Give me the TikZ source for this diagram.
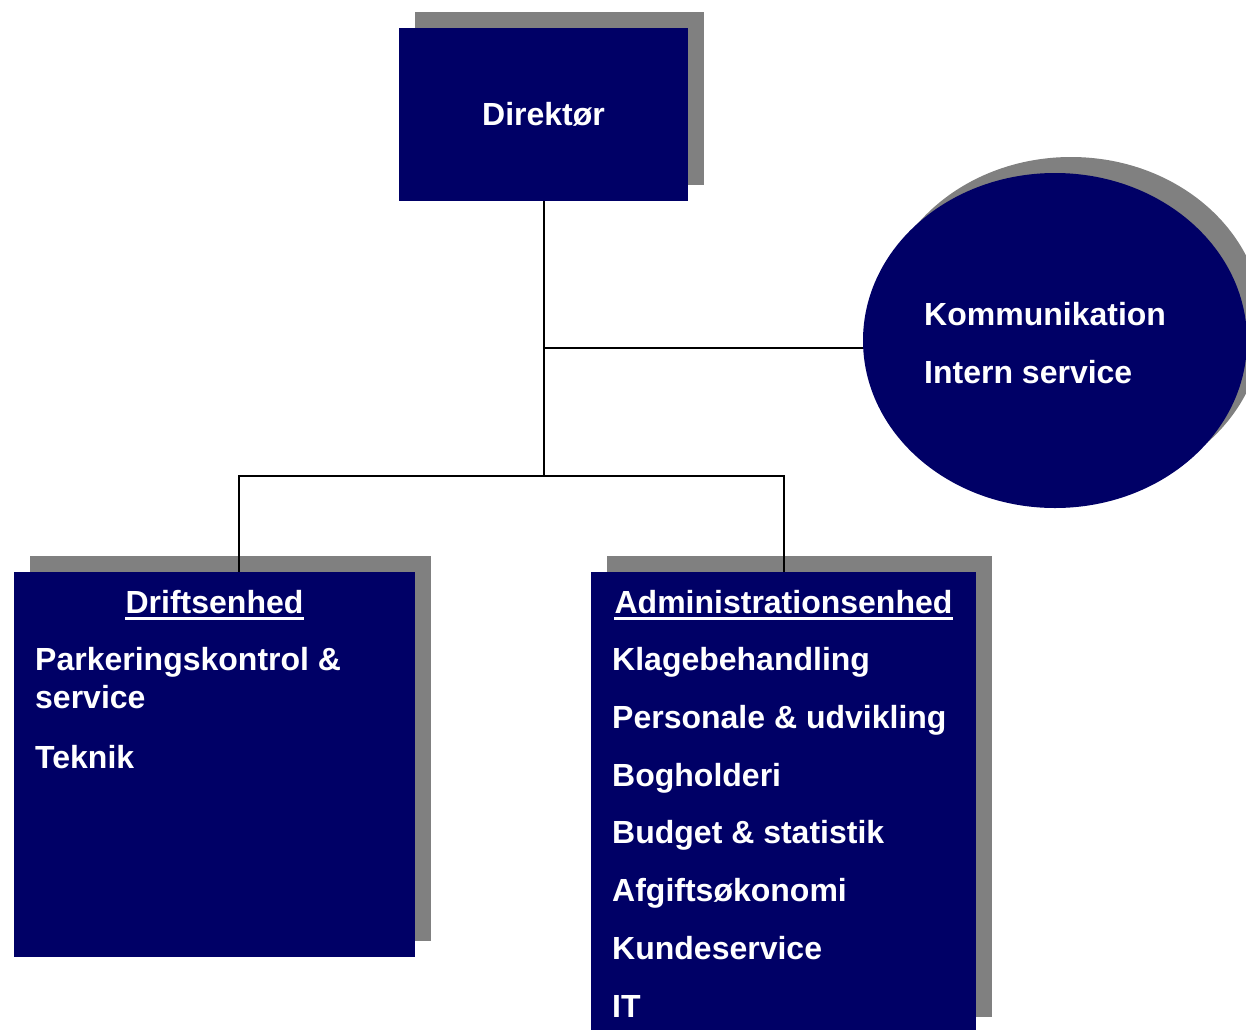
\documentclass[tikz,border=0pt]{standalone}
\usepackage{fontspec}
\setmainfont{Liberation Sans}
\usepackage{tikz}
\usetikzlibrary{positioning,shadows,shapes.geometric}
\definecolor{navy}{RGB}{0,0,102}
\definecolor{shade}{RGB}{128,128,128}

\begin{document}
\begin{tikzpicture}[
  x=1pt, y=-1pt,
  box/.style={fill=navy, inner sep=0pt, outer sep=0pt,
              drop shadow={shadow xshift=16pt, shadow yshift=16pt, fill=shade, opacity=1}},
  lbl/.style={text=white, font=\fontsize{32}{38}\selectfont\bfseries, inner sep=0pt},
  uline/.style={white, line width=2.6pt},
  link/.style={line width=2pt}
]
\useasboundingbox (0,0) rectangle (1246,1029);

% units
\node[box, lbl, minimum width=289pt, minimum height=173pt] (dir) at (543.5,114.5) {Direktør};
\node[box, ellipse, minimum width=384pt, minimum height=335pt] (komm) at (1055,340.5) {};
\node[box, minimum width=401pt, minimum height=385pt] (drift) at (214.5,764.5) {};
\node[box, minimum width=385pt, minimum height=461pt] (admin) at (783.5,802.5) {};

% texts (base = last line)
\node[lbl, anchor=base west, align=left] (kommtxt) at (924,383) {Kommunikation\\[20pt]Intern service};

\node[lbl, anchor=base] (drifthead) at (drift.north |- 0,613) {Driftsenhed};
\draw[uline] ([yshift=-5.5pt]drifthead.base west) -- ([yshift=-5.5pt]drifthead.base east);
\node[lbl, anchor=base west, align=left] (driftlist) at (35,768) {Parkeringskontrol \&\\service\\[22pt]Teknik};

\node[lbl, anchor=base] (adminhead) at (admin.north |- 0,613) {Administrationsenhed};
\draw[uline] ([yshift=-5.5pt]adminhead.base west) -- ([yshift=-5.5pt]adminhead.base east);
\node[lbl, anchor=base west, align=left] (adminlist) at (612,1017) {Klagebehandling\\[19.7pt]Personale \& udvikling\\[19.7pt]Bogholderi\\[19.7pt]Budget \& statistik\\[19.7pt]Afgiftsøkonomi\\[19.7pt]Kundeservice\\[19.7pt]IT};

% connectors
\coordinate (hub) at (543.5,476);
\coordinate (tee) at (543.5,348);
\draw[link] (dir) -- (hub);
\draw[link] (tee) -- (tee -| komm.west);
\draw[link] ([xshift=24.5pt]drift.north) |- (hub) -| (admin.north);
\end{tikzpicture}
\end{document}
